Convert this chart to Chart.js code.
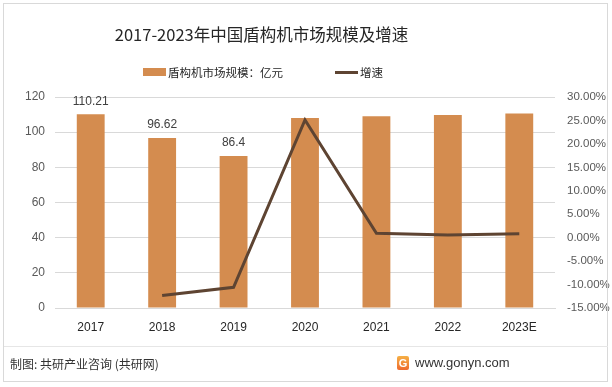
<!DOCTYPE html>
<html>
<head>
<meta charset="utf-8">
<script src="https://cdn.jsdelivr.net/npm/chart.js@4/dist/chart.umd.min.js"></script>
<style>
  html, body { margin: 0; padding: 0; background: #fff; }
  #wrap { position: relative; width: 612px; height: 387px; overflow: hidden; font-family: "Noto Sans CJK SC", "Liberation Sans", sans-serif; }
  #frame { position: absolute; left: 3px; top: 3px; width: 605px; height: 379px; border: 1px solid #d9d9d9; box-sizing: border-box; }
  #title { position: absolute; left: 0; width: 523px; top: 22px; text-align: center; font-size: 16.5px; color: #262626; }
  #legend { position: absolute; left: 143px; top: 63px; height: 18px; font-size: 11.5px; color: #262626; display: flex; align-items: center; }
  .item { display: flex; align-items: center; }
  #sep { position: absolute; left: 4px; width: 604px; top: 346px; height: 1px; background: #e6e6e6; }
  #src { position: absolute; left: 10px; top: 355px; font-size: 12px; color: #333; }
  #site { position: absolute; left: 397px; top: 355px; font-size: 13px; color: #333; display: flex; align-items: center; font-family: "Liberation Sans", sans-serif; }
  #logo { width: 12px; height: 14px; margin-right: 6px; border-radius: 2px; background: linear-gradient(#f5b045, #ee6a2e); color: #fff; font-size: 11px; font-weight: bold; line-height: 14px; text-align: center; }
  canvas { position: absolute; left: 0; top: 0; }
</style>
</head>
<body>
<div id="wrap">
  <canvas id="chart" width="612" height="387"></canvas>
  <div id="frame"></div>
  <div id="title">2017-2023年中国盾构机市场规模及增速</div>
  <div id="legend"></div>
  <div id="sep"></div>
  <div id="src">制图: 共研产业咨询 (共研网)</div>
  <div id="site"><span id="logo">G</span>www.gonyn.com</div>
</div>
<script>
// chart data
const years = ["2017", "2018", "2019", "2020", "2021", "2022", "2023E"];
const marketSize = [110.21, 96.62, 86.4, 108.1, 109.1, 109.7, 110.6];
const growthRate = [null, -12.33, -10.58, 25.12, 0.93, 0.55, 0.82];
const sizeLabels = ["110.21", "96.62", "86.4", null, null, null, null];
const leftTicks = [0, 20, 40, 60, 80, 100, 120];
const rightTicks = [-15, -10, -5, 0, 5, 10, 15, 20, 25, 30];

const barColor = "#d48c4f";
const lineColor = "#5e4432";

// values on top of the first three bars
const barLabels = {
    id: "barLabels",
    afterDatasetsDraw(chart) {
        const ctx = chart.ctx;
        const meta = chart.getDatasetMeta(1);
        ctx.save();
        ctx.font = "12px 'Liberation Sans', sans-serif";
        ctx.fillStyle = "#404040";
        ctx.textAlign = "center";
        ctx.textBaseline = "bottom";
        meta.data.forEach((bar, i) => {
            if (sizeLabels[i]) ctx.fillText(sizeLabels[i], bar.x, bar.y - 7);
        });
        ctx.restore();
    }
};

const config = {
    type: "bar",
    data: {
        labels: years,
        datasets: [{
            type: "line",
            label: "增速",
            data: growthRate,
            yAxisID: "y2",
            borderColor: lineColor,
            backgroundColor: lineColor,
            borderWidth: 3,
            pointRadius: 0,
            tension: 0,
            order: 0
        }, {
            type: "bar",
            label: "盾构机市场规模：亿元",
            data: marketSize,
            yAxisID: "y",
            backgroundColor: barColor,
            categoryPercentage: 1,
            barPercentage: 0.39,
            order: 1
        }]
    },
    options: {
        responsive: false,
        animation: false,
        layout: { padding: { left: 0, right: 0, top: 97, bottom: 49 } },
        plugins: { legend: { display: false }, tooltip: { enabled: false } },
        scales: {
            x: {
                grid: { display: false, drawTicks: false },
                border: { color: "#d9d9d9" },
                ticks: { padding: 12, color: "#262626", font: { size: 12, family: "'Liberation Sans', sans-serif" } },
                afterFit(s) { s.height = 30; }
            },
            y: {
                position: "left",
                min: 0, max: 120,
                afterBuildTicks(s) { s.ticks = leftTicks.map(v => ({ value: v })); },
                grid: { color: "#d9d9d9", drawTicks: false },
                border: { display: false },
                ticks: { padding: 10, color: "#595959", font: { size: 12, family: "'Liberation Sans', sans-serif" } },
                afterFit(s) { s.width = 55; }
            },
            y2: {
                position: "right",
                min: -15, max: 30,
                afterBuildTicks(s) { s.ticks = rightTicks.map(v => ({ value: v })); },
                grid: { display: false, drawTicks: false },
                border: { display: false },
                ticks: {
                    padding: 12, color: "#595959", font: { size: 11.5, family: "'Liberation Sans', sans-serif" },
                    callback: v => v.toFixed(2) + "%"
                },
                afterFit(s) { s.width = 57; }
            }
        }
    },
    plugins: [barLabels]
};

const chart = new Chart(document.getElementById("chart"), config);

// legend built from the chart's datasets
const legend = document.getElementById("legend");
[chart.data.datasets[1], chart.data.datasets[0]].forEach((ds, i) => {
    const item = document.createElement("span");
    item.className = "item";
    if (i > 0) item.style.marginLeft = "52px";
    const sw = document.createElement("span");
    sw.style.display = "inline-block";
    sw.style.width = "23px";
    sw.style.marginRight = "2px";
    sw.style.height = ds.type === "bar" ? "8px" : "3px";
    sw.style.background = ds.type === "bar" ? ds.backgroundColor : ds.borderColor;
    item.appendChild(sw);
    item.appendChild(document.createTextNode(ds.label));
    legend.appendChild(item);
});
</script>
</body>
</html>
